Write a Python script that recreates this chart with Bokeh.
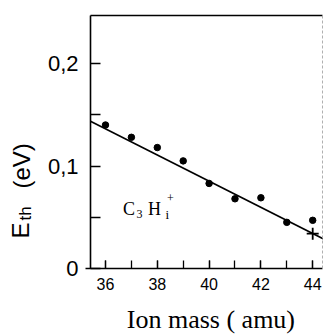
import math
from bokeh.plotting import figure
from bokeh.models import FixedTicker, Label, LinearAxis, Range1d
from bokeh.embed import file_html
from bokeh.resources import INLINE

# --- data ---
ion_mass = [36, 37, 38, 39, 40, 41, 42, 43, 44]
e_th = [0.140, 0.128, 0.118, 0.105, 0.083, 0.068, 0.069, 0.045, 0.047]
cross_mass = [44]
cross_e = [0.034]
fit_mass = [35.42, 44.4]
fit_e = [0.1437, 0.029]
x_major = [36, 38, 40, 42, 44]
x_minor = [36, 37, 38, 39, 40, 41, 42, 43, 44]
y_major = [0, 0.1, 0.2]
y_minor = [0.05, 0.15]
y_tick_labels = {0: "0", 0.1: "0,1", 0.2: "0,2"}
x_title = "Ion mass ( amu)"

# plotting box in data units (axes drawn at these locations)
X_LO, X_HI = 35.42, 44.38
Y_LO, Y_HI = 0.0, 0.2468

SANS = "Liberation Sans"
SERIF = "Liberation Serif"

# the frame spans the whole canvas; axes are placed at fixed data locations
p = figure(width=323, height=335,
           x_range=Range1d(31.946, 44.417), y_range=Range1d(-0.0654, 0.2615),
           output_backend="svg", toolbar_location=None,
           x_axis_location=None, y_axis_location=None,
           min_border=0)
p.xgrid.visible = False
p.ygrid.visible = False
p.outline_line_color = None
p.background_fill_color = "white"
p.border_fill_color = "white"


def style(ax):
    ax.axis_line_width = 1.6
    ax.axis_line_color = "black"
    ax.major_tick_line_width = 1.3
    ax.minor_tick_line_width = 1.3
    ax.major_tick_line_color = "black"
    ax.minor_tick_line_color = "black"
    ax.major_tick_out = 0
    ax.minor_tick_out = 0
    ax.major_label_text_color = "black"


xa = LinearAxis(fixed_location=Y_LO, bounds=(35.22, X_HI),
                ticker=FixedTicker(ticks=x_major, minor_ticks=x_minor))
style(xa)
xa.major_tick_in = 8
xa.minor_tick_in = 8
xa.major_label_text_font = SANS
xa.major_label_text_font_size = "16px"
xa.major_label_standoff = 10
p.add_layout(xa, "below")

ya = LinearAxis(fixed_location=X_LO, bounds=(Y_LO, Y_HI),
                ticker=FixedTicker(ticks=y_major, minor_ticks=y_minor))
style(ya)
ya.major_tick_in = 10
ya.minor_tick_in = 10
ya.major_label_text_font = SANS
ya.major_label_text_font_size = "22px"
ya.major_label_standoff = 12
ya.major_label_overrides = y_tick_labels
p.add_layout(ya, "left")

# top frame line
top = LinearAxis(fixed_location=Y_HI, bounds=(X_LO, X_HI),
                 ticker=FixedTicker(ticks=[]), major_label_text_font_size="0px",
                 axis_line_color="black", axis_line_width=1.5,
                 major_tick_line_color=None, minor_tick_line_color=None)
p.add_layout(top, "above")

# faint dashed right edge
right = LinearAxis(fixed_location=X_HI, bounds=(Y_LO, Y_HI),
                   ticker=FixedTicker(ticks=[]), major_label_text_font_size="0px",
                   axis_line_color="#b0b0b0", axis_line_width=1,
                   axis_line_dash="3 2",
                   major_tick_line_color=None, minor_tick_line_color=None)
p.add_layout(right, "right")

# fit line, points, cross
p.line(fit_mass, fit_e, line_color="black", line_width=1.6)
p.scatter(ion_mass, e_th, size=6.5, color="black")
p.scatter(cross_mass, cross_e, marker="cross", size=12,
          line_color="black", line_width=1.8)

# y axis title: E_th (eV), rotated
rot = math.pi / 2
ylab = [("E", 32.726, 0.0293, "24px"), ("th", 32.93, 0.0468, "17px"),
        ("(eV)", 32.745, 0.078, "24px")]
for t, lx, ly, fs in ylab:
    p.add_layout(Label(x=lx, y=ly, text=t, angle=rot, text_font=SANS,
                       text_font_size=fs, text_align="left",
                       text_baseline="middle", text_color="black"))

# x axis title
p.add_layout(Label(x=40.07, y=-0.0500, text=x_title, text_font=SERIF,
                   text_font_size="26px", text_align="center",
                   text_baseline="middle", text_color="black"))

# species annotation C3 Hi+
ann = [("C", 36.68, 0.0577, "18px"), ("3", 37.2, 0.0527, "12px"),
       ("H", 37.64, 0.0577, "18px"), ("i", 38.32, 0.0531, "13px"),
       ("+", 38.37, 0.0683, "12px")]
for t, ax_, ay_, fs in ann:
    p.add_layout(Label(x=ax_, y=ay_, text=t, text_font=SERIF, text_font_size=fs,
                       text_align="left", text_baseline="middle",
                       text_color="black"))

open("out.html", "w").write(file_html(p, INLINE))
